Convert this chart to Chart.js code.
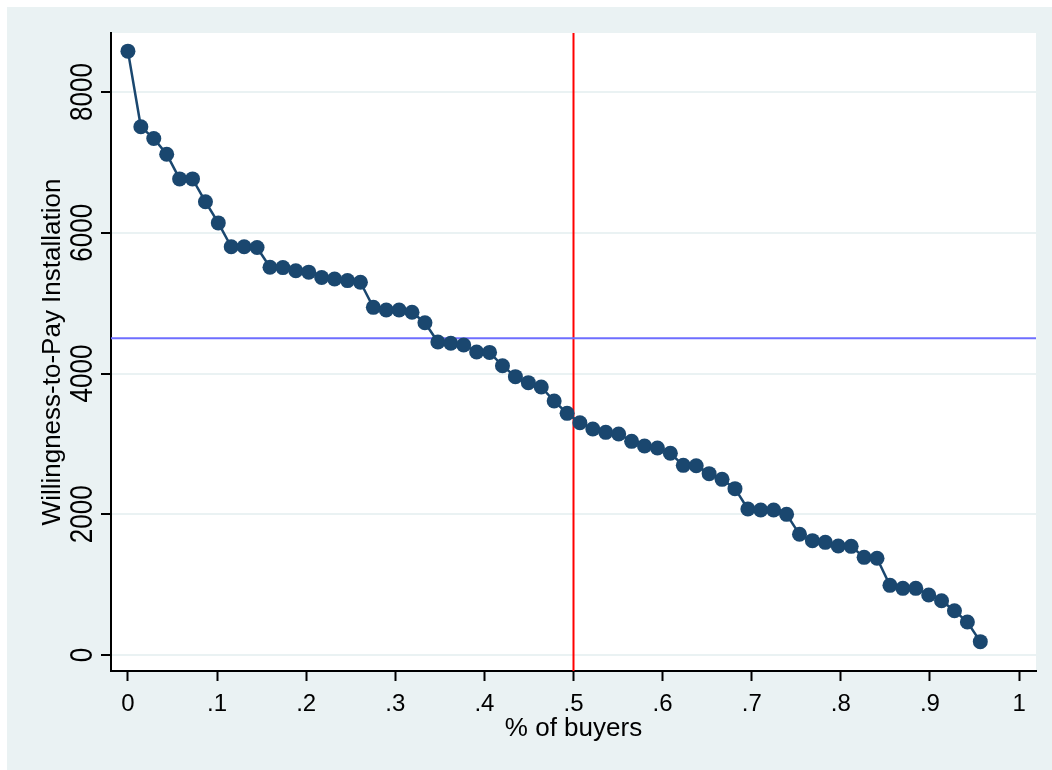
<!DOCTYPE html>
<html>
<head>
<meta charset="utf-8">
<title>Willingness-to-Pay Installation</title>
<script src="https://cdn.jsdelivr.net/npm/chart.js@4/dist/chart.umd.min.js"></script>
<style>
    body { margin: 0; background: #ffffff; }
    #wtp-chart { display: block; }
</style>
</head>
<body>
<canvas id="wtp-chart" width="1052" height="770"></canvas>
<script>
// share of buyers (rank / n) for each respondent
const buyerShare = [
    0, .0145, .0290, .0435, .0580, .0725, .0870, .1014, .1159, .1304,
    .1449, .1594, .1739, .1884, .2029, .2174, .2319, .2464, .2609, .2754,
    .2899, .3043, .3188, .3333, .3478, .3623, .3768, .3913, .4058, .4203,
    .4348, .4493, .4638, .4783, .4928, .5072, .5217, .5362, .5507, .5652,
    .5797, .5942, .6087, .6232, .6377, .6522, .6667, .6812, .6957, .7101,
    .7246, .7391, .7536, .7681, .7826, .7971, .8116, .8261, .8406, .8551,
    .8696, .8841, .8986, .9130, .9275, .9420, .9565
];

// willingness-to-pay, sorted from highest to lowest
const wtpValues = [
    8580, 7505, 7340, 7115, 6765, 6765, 6440, 6140, 5800, 5800,
    5790, 5510, 5505, 5460, 5440, 5365, 5343, 5320, 5296, 4940,
    4902, 4902, 4870, 4722, 4448, 4429, 4405, 4305, 4300, 4111,
    3955, 3870, 3808, 3609, 3434, 3301, 3211, 3164, 3140, 3036,
    2970, 2941, 2866, 2695, 2690, 2577, 2496, 2364, 2075, 2060,
    2060, 1999, 1715, 1625, 1601, 1549, 1544, 1388, 1374, 990,
    947, 947, 853, 772, 630, 469, 190
];

const xTicks = [0, .1, .2, .3, .4, .5, .6, .7, .8, .9, 1];
const xTickLabels = ["0", ".1", ".2", ".3", ".4", ".5", ".6", ".7", ".8", ".9", "1"];
const yTicks = [0, 2000, 4000, 6000, 8000];
const yTickLabels = ["0", "2000", "4000", "6000", "8000"];

const priceLine = 4500;   // horizontal reference
const shareLine = 0.5;    // vertical reference

const xRange = [-0.019, 1.019];
const yRange = [-227, 8838];

const bgColor = "#eaf2f3";
const navy = "#1a476f";
const fontFamily = "'Liberation Sans', Arial, sans-serif";

const backgroundPlugin = {
    id: "stataBackground",
    beforeDraw(chart) {
        const {ctx, chartArea} = chart;
        ctx.save();
        ctx.fillStyle = "#ffffff";
        ctx.fillRect(0, 0, chart.width, chart.height);
        ctx.fillStyle = bgColor;
        ctx.fillRect(7, 7, chart.width - 7, chart.height - 7);
        ctx.fillStyle = "#ffffff";
        ctx.fillRect(chartArea.left, chartArea.top, chartArea.right - chartArea.left, chartArea.bottom - chartArea.top);
        ctx.restore();
    }
};

// y tick labels are drawn rotated, like in the original
const rotatedYLabels = {
    id: "rotatedYLabels",
    afterDraw(chart) {
        const {ctx} = chart;
        const yScale = chart.scales.y;
        ctx.save();
        ctx.fillStyle = "#000000";
        ctx.font = `26px ${fontFamily}`;
        ctx.textAlign = "center";
        ctx.textBaseline = "alphabetic";
        yTicks.forEach((value, i) => {
            const y = yScale.getPixelForValue(value);
            ctx.save();
            ctx.translate(92, y);
            ctx.rotate(-Math.PI / 2);
            ctx.scale(1, 1.18);
            ctx.fillText(yTickLabels[i], 0, 0);
            ctx.restore();
        });
        ctx.restore();
    }
};

document.addEventListener("DOMContentLoaded", function(){

    const ctx = document.getElementById("wtp-chart");

    new Chart(ctx, {
        type: "line",
        data: {
            datasets: [
                {
                    label: "WTP",
                    data: buyerShare.map((x, i) => ({x: x, y: wtpValues[i]})),
                    borderColor: navy,
                    backgroundColor: navy,
                    borderWidth: 2.5,
                    pointRadius: 7.5,
                    pointBorderWidth: 0,
                    pointBackgroundColor: navy,
                    tension: 0
                },
                {
                    label: "price",
                    data: [{x: xRange[0], y: priceLine}, {x: xRange[1], y: priceLine}],
                    borderColor: "rgb(110, 110, 255)",
                    borderWidth: 2,
                    pointRadius: 0
                },
                {
                    label: "share",
                    data: [{x: shareLine, y: yRange[0]}, {x: shareLine, y: yRange[1]}],
                    borderColor: "#ff0000",
                    borderWidth: 2,
                    pointRadius: 0
                }
            ]
        },
        options: {
            responsive: false,
            animation: false,
            layout: {
                padding: {left: 7, top: 33, right: 16, bottom: 0}
            },
            plugins: {
                legend: { display: false },
                tooltip: { enabled: false }
            },
            scales: {
                x: {
                    type: "linear",
                    min: xRange[0],
                    max: xRange[1],
                    afterBuildTicks: (scale) => {
                        scale.ticks = xTicks.map(v => ({value: v}));
                    },
                    afterFit: (scale) => { scale.height = 99; },
                    ticks: {
                        autoSkip: false,
                        maxRotation: 0,
                        padding: 9,
                        color: "#000000",
                        font: {family: fontFamily, size: 24},
                        callback: (value, index) => xTickLabels[index]
                    },
                    grid: {
                        drawOnChartArea: false,
                        drawTicks: true,
                        tickLength: 10,
                        tickWidth: 2,
                        tickColor: "#000000"
                    },
                    border: { display: true, color: "#000000", width: 2 },
                    title: {
                        display: true,
                        text: "% of buyers",
                        color: "#000000",
                        font: {family: fontFamily, size: 26},
                        padding: {top: 0, bottom: 26}
                    }
                },
                y: {
                    type: "linear",
                    min: yRange[0],
                    max: yRange[1],
                    afterBuildTicks: (scale) => {
                        scale.ticks = yTicks.map(v => ({value: v}));
                    },
                    afterFit: (scale) => { scale.width = 104; },
                    ticks: { display: false },
                    grid: {
                        color: bgColor,
                        lineWidth: 2,
                        drawTicks: true,
                        tickLength: 10,
                        tickWidth: 2,
                        tickColor: "#000000"
                    },
                    border: { display: true, color: "#000000", width: 2 },
                    title: {
                        display: true,
                        text: "Willingness-to-Pay Installation",
                        color: "#000000",
                        font: {family: fontFamily, size: 26},
                        padding: {top: 30, bottom: 0}
                    }
                }
            }
        },
        plugins: [backgroundPlugin, rotatedYLabels]
    });

});
</script>
</body>
</html>
